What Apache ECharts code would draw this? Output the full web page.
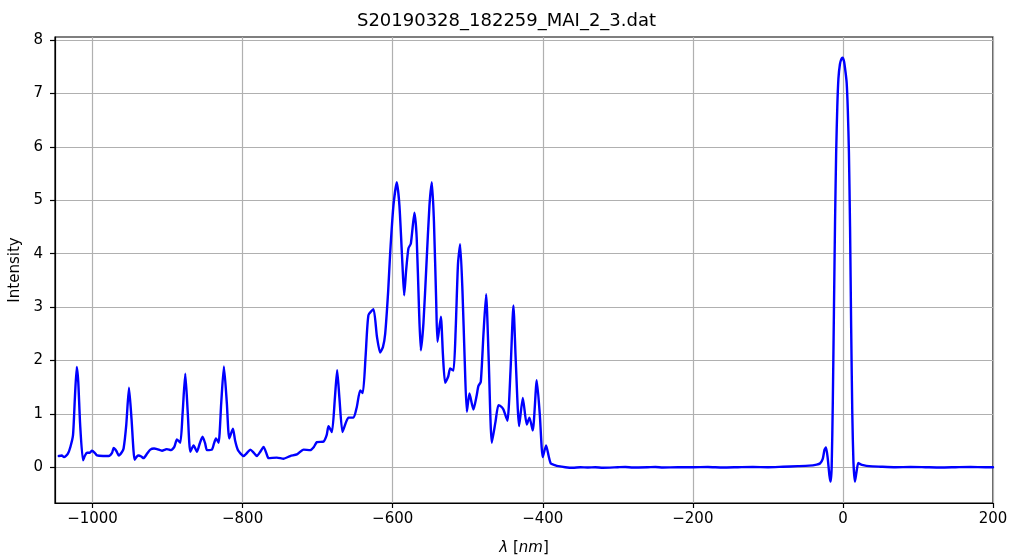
<!DOCTYPE html>
<html>
<head>
<meta charset="utf-8">
<script src="https://cdn.jsdelivr.net/npm/echarts@6/dist/echarts.min.js"></script>
<style>html,body{margin:0;padding:0;background:#fff}#c{width:1013px;height:560px}</style>
</head>
<body>
<div id="c"></div>
<script>
var title = 'S20190328_182259_MAI_2_3.dat';
var xTicks = [-1000, -800, -600, -400, -200, 0, 200];
var yTicks = [0, 1, 2, 3, 4, 5, 6, 7, 8];
var wavelength = [
-1045,-1041,-1038,-1033,-1029.5,-1026,-1023.5,-1021,-1019,-1016.5,-1012.7,-1010,-1007.4,-1004,-1000.7,-997,-994,-986,-978.5,-974,-971.8,-968,-965,-961,-958.6,-955,-951.4,-948,-943.9,-941,-938.6,-935,-932,-927,-923,-918,-914,-907.4,-903,-900.8,-895.5,-891,-887.5,-883,-880,-876.4,-873,-869.7,-865.3,-860.8,-857,-853.3,-850,-847.5,-840.9,-838,-835.5,-832,-828.5,-824.9,-821,-817.8,-812.9,-810,-806.2,-798.7,-794,-789.8,-785,-780.9,-776,-772,-768,-765.4,-754.3,-745.4,-736.5,-727.6,-718.8,-709.9,-705,-701,-692.2,-688,-685.5,-681,-677,-674,-671,-666.9,-662,-658.9,-652.2,-647.8,-643.3,-639.8,-636,-632.3,-625.6,-621,-616.7,-613,-610,-606,-603.4,-599,-594.5,-591,-587,-584.7,-582,-579,-575.8,-571,-568,-565,-562.5,-559,-555,-551,-547.8,-545,-542,-540.3,-535.8,-533,-530.1,-526,-523.4,-519,-516,-513,-510.1,-507,-504,-501.2,-497.7,-492.4,-488,-485.8,-482.6,-479,-475.5,-472,-467.9,-463,-459.1,-455,-452.4,-447.1,-443,-439.1,-436,-431.5,-426.6,-421.3,-417.8,-413.3,-408,-404,-400,-395.6,-392,-389.3,-384,-379.2,
-370,-360,-350,-340,-330,-320,-300,-290,-280,-260,-250,-240,-220,-200,-180,-160,-140,-120,-100,-80,-60,-45,-35,-30.6,-27,-24.5,-22.6,-20.5,-18,-16.4,-15,-13.5,-12,-10.5,-9,-7.5,-6,-4,-2,-0.4,1.5,3.5,5,6.5,8,9.5,11,12.5,14,16,18,20.4,23,27,35,50,70,90,110,130,150,170,190,200
];
var intensity = [
0.21,0.22,0.19,0.25,0.38,0.6,1.3,1.88,1.6,0.8,0.13,0.22,0.27,0.27,0.31,0.27,0.22,0.21,0.21,0.27,0.36,0.3,0.22,0.28,0.35,0.8,1.49,0.9,0.14,0.2,0.22,0.2,0.17,0.26,0.33,0.35,0.34,0.31,0.33,0.34,0.32,0.38,0.52,0.46,1.0,1.75,1.0,0.29,0.41,0.29,0.45,0.57,0.45,0.32,0.33,0.45,0.54,0.46,1.2,1.89,1.2,0.54,0.72,0.5,0.32,0.21,0.27,0.33,0.27,0.21,0.3,0.38,0.25,0.17,0.18,0.16,0.21,0.24,0.33,0.32,0.38,0.47,0.48,0.6,0.77,0.66,1.3,1.82,1.3,0.66,0.85,0.93,0.93,1.13,1.44,1.39,2.1,2.85,2.96,2.45,2.15,2.25,2.5,3.3,4.0,4.9,5.34,4.9,3.8,3.22,3.7,4.1,4.19,4.77,4.3,3.0,2.19,2.7,3.8,4.9,5.34,4.6,3.1,2.35,2.82,2.1,1.58,1.7,1.85,1.81,2.6,3.8,4.18,3.3,2.0,1.04,1.38,1.08,1.35,1.52,1.6,2.5,3.24,2.0,0.46,0.85,1.16,1.13,1.08,0.87,1.8,3.03,2.0,0.77,1.30,0.80,0.93,0.69,1.63,1.0,0.19,0.41,0.2,0.07,0.04,0.02,
0.0,-0.01,0.0,-0.005,0.0,-0.01,0.0,0.005,-0.005,0.0,0.005,-0.005,0.0,0.0,0.005,-0.005,0.0,0.005,0.0,0.01,0.02,0.03,0.05,0.07,0.15,0.33,0.37,0.2,-0.15,-0.27,0.0,1.2,2.9,4.6,5.9,6.75,7.28,7.55,7.65,7.67,7.6,7.4,7.2,6.7,5.9,4.5,2.6,1.0,0.1,-0.27,-0.1,0.08,0.06,0.04,0.02,0.01,0.0,0.005,0.0,-0.005,0.0,0.005,0.0,0.0
];
var seriesData = wavelength.map(function (x, i) { return [x, intensity[i]]; });

var FONT = 'DejaVu Sans';
var chart = echarts.init(document.getElementById('c'), null, {renderer: 'canvas'});
function fmt(v) { return v < 0 ? '\u2212' + Math.abs(v) : String(v); }
chart.setOption({
  animation: false,
  backgroundColor: '#ffffff',
  title: {
    text: title, left: 'center', top: 7,
    textStyle: {fontFamily: FONT, fontSize: 18, fontWeight: 'normal', color: '#000'}
  },
  grid: {left: 55, right: 20, top: 37, bottom: 57, show: true, borderColor: '#000', borderWidth: 1.2, backgroundColor: 'transparent', containLabel: false, outerBoundsMode: 'none'},
  xAxis: {
    type: 'value', min: -1050, max: 200,
    name: '{i|λ} {n|[}{i|nm}{n|]}', nameLocation: 'middle', nameGap: 38,
    nameTextStyle: {fontFamily: FONT, fontSize: 15, color: '#000',
      rich: {i: {fontFamily: FONT, fontSize: 15, fontStyle: 'italic', color: '#000'}, n: {fontFamily: FONT, fontSize: 15, color: '#000'}}},
    axisLine: {show: true, onZero: false, lineStyle: {color: '#000', width: 1.2}},
    axisTick: {show: true, inside: false, length: 5, customValues: xTicks, lineStyle: {color: '#000', width: 1.2}},
    axisLabel: {customValues: xTicks, formatter: fmt, fontFamily: FONT, fontSize: 15, color: '#000', margin: 9},
    splitLine: {show: true, lineStyle: {color: '#b0b0b0', width: 1.2}}
  },
  yAxis: {
    type: 'value', min: -0.67, max: 8.06,
    name: 'Intensity', nameLocation: 'middle', nameGap: 28, nameRotate: 90,
    nameTextStyle: {fontFamily: FONT, fontSize: 15, color: '#000'},
    axisLine: {show: true, onZero: false, lineStyle: {color: '#000', width: 1.2}},
    axisTick: {show: true, inside: false, length: 5, customValues: yTicks, lineStyle: {color: '#000', width: 1.2}},
    axisLabel: {customValues: yTicks, formatter: fmt, fontFamily: FONT, fontSize: 15, color: '#000', margin: 12},
    splitLine: {show: true, lineStyle: {color: '#b0b0b0', width: 1.2}}
  },
  series: [{
    type: 'line', data: seriesData, showSymbol: false, symbol: 'none',
    smooth: 0.2,
    lineStyle: {color: '#0000ff', width: 2.4, join: 'round', cap: 'round'}, itemStyle: {color: '#0000ff'},
    clip: true
  }]
});
</script>
</body>
</html>
